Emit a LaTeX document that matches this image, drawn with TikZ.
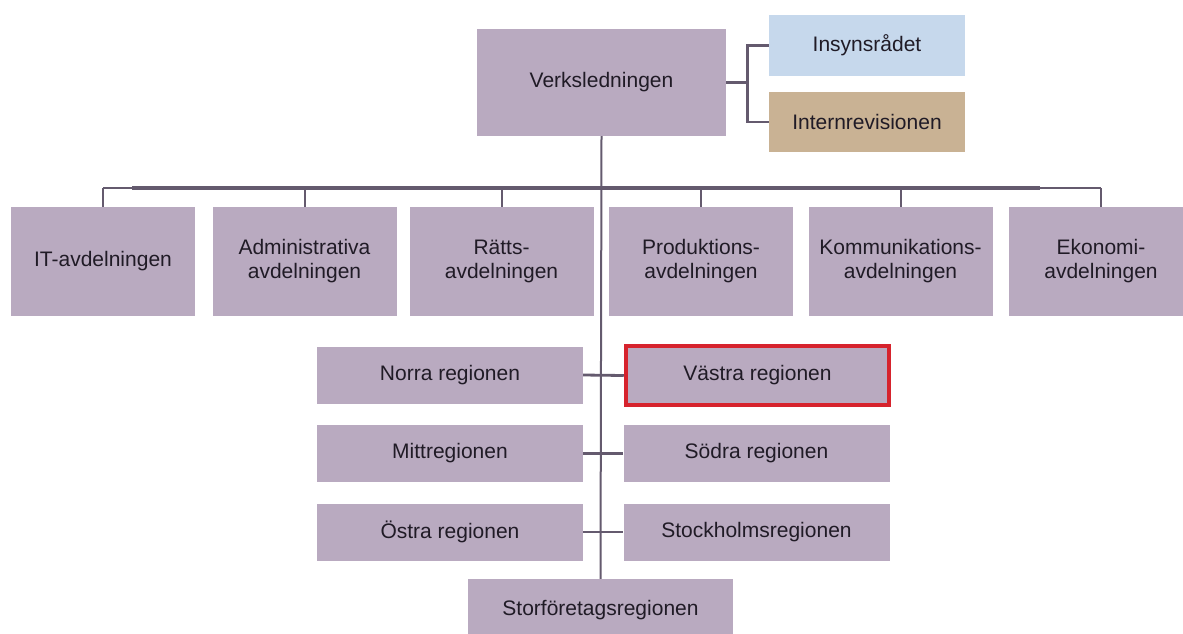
\documentclass[tikz,border=0pt]{standalone}
\usepackage{fontspec}
\setmainfont{Liberation Sans}
\definecolor{boxfill}{RGB}{185,170,192}
\definecolor{bluefill}{RGB}{198,216,236}
\definecolor{tanfill}{RGB}{201,178,148}
\definecolor{linec}{RGB}{100,90,110}
\definecolor{redc}{RGB}{214,35,45}
\definecolor{textc}{RGB}{32,27,38}
\tikzset{
  orgbox/.style={rectangle, fill=boxfill, inner sep=0pt, align=center,
    text=textc, font=\fontsize{21}{24}\selectfont},
  deptbox/.style={orgbox, minimum width=184pt, minimum height=109pt},
  regbox/.style={orgbox, minimum width=266pt, minimum height=57pt},
  conn/.style={draw=linec, line width=2pt},
  heavyconn/.style={draw=linec, line width=2.8pt},
  thickbar/.style={draw=linec, line width=3.2pt},
}
\begin{document}
\begin{tikzpicture}[x=1pt, y=-1pt]
\useasboundingbox (0,0) rectangle (1183,633);
\clip (0,0) rectangle (1183,633);
\fill[white] (0,0) rectangle (1183,633);

% top level
\node[orgbox, minimum width=249pt, minimum height=107pt] (verks) at (601.5,82.5) {Verksledningen};
\node[orgbox, fill=bluefill, minimum width=196pt, minimum height=61pt] (insyn) at (867,45.5) {Insynsrådet};
\node[orgbox, fill=tanfill, minimum width=196pt, minimum height=60pt] (intern) at (867,122) {Internrevisionen};

% departments
\node[deptbox] (it)   at (103,261.5)   {IT-avdelningen};
\node[deptbox] (adm)  at (304.5,261.5) {Administrativa\\avdelningen};
\node[deptbox] (ratt) at (501.5,261.5) {Rätts-\\avdelningen};
\node[deptbox] (prod) at (701,261.5)   {Produktions-\\avdelningen};
\node[deptbox] (komm) at (900.5,261.5) {Kommunikations-\\avdelningen};
\node[deptbox] (eko)  at (1101,261.5)  {Ekonomi-\\avdelningen};

% regions
\node[regbox] (norra) at (450,375)   {Norra regionen};
\node[regbox, draw=redc, line width=4.5pt, minimum width=263pt, minimum height=59pt] (vastra) at (757.5,375.5) {Västra regionen};
\node[regbox] (mitt)  at (450,453.5) {Mittregionen};
\node[regbox] (sodra) at (756.5,453.5) {Södra regionen};
\node[regbox] (ostra) at (450,532)   {Östra regionen};
\node[regbox] (sthlm) at (756.5,532) {Stockholmsregionen};
\node[orgbox, minimum width=265pt, minimum height=62pt] (storf) at (600.5,610) {Storföretagsregionen};

% connectors: top bracket
\draw[heavyconn] (verks.east) -- ++(22,0);
\draw[heavyconn] (insyn.west) -- ++(-21,0) |- (intern.west);

% trunk
\draw[conn] (verks.south) -- (storf.north);

% horizontal bar
\coordinate (barL) at (103,188);
\coordinate (barR) at (1101,188);
\coordinate (thickL) at (132,188);
\coordinate (thickR) at (1040,188);
\draw[conn] (barL) -- (barR);
\draw[thickbar] (thickL) -- (thickR);
\foreach \n in {it,adm,ratt,prod,komm,eko}{
  \draw[conn] (\n.north) -- (\n.north |- barL);
}

% region connectors
\draw[heavyconn] (norra.east) -- (vastra.west);
\draw[heavyconn] (mitt.east) -- (sodra.west);
\draw[heavyconn] (ostra.east) -- (sthlm.west);
\end{tikzpicture}
\end{document}
